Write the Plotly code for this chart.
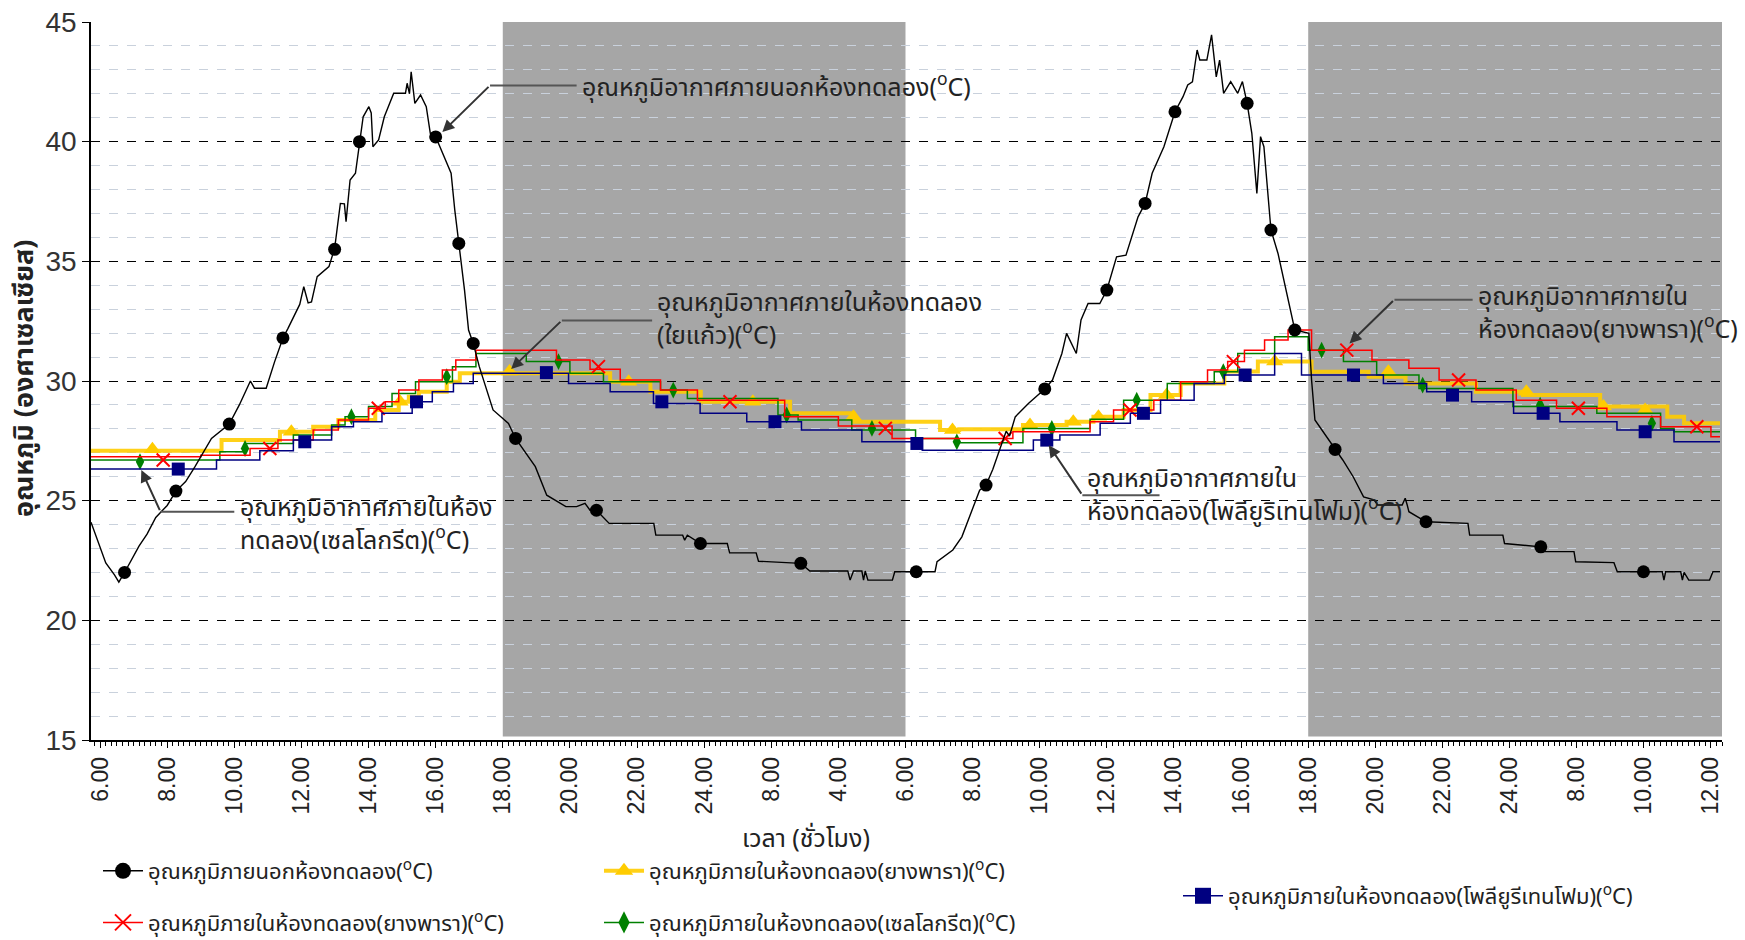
import plotly.graph_objects as go

# ---------------- data (hours since 6:00 of day 1) ----------------
tick_pos = [0, 2, 4, 6, 8, 10, 12, 14, 16, 18, 20, 22, 24, 26, 28, 30, 32, 34, 36, 38, 40, 42, 44, 46, 48]
tick_text = ["6.00", "8.00", "10.00", "12.00", "14.00", "16.00", "18.00", "20.00", "22.00", "24.00",
             "8.00", "4.00", "6.00", "8.00", "10.00", "12.00", "14.00", "16.00", "18.00", "20.00",
             "22.00", "24.00", "8.00", "10.00", "12.00"]

night_periods = [(12.0, 24.0), (36.0, 48.33)]

out_t = [-0.27, 0.0, 0.17, 0.43, 0.56, 0.73, 1.16, 1.4, 1.66, 2.0, 2.26, 2.55, 2.82, 3.32, 3.85, 4.15, 4.48,
         4.6, 4.95, 5.2, 5.45, 5.6, 5.79, 5.95, 6.07, 6.2, 6.3, 6.47, 6.82, 6.99, 7.16, 7.28, 7.33, 7.45,
         7.61, 7.73, 7.84, 8.01, 8.08, 8.13, 8.3, 8.47, 8.75, 9.1, 9.15, 9.22, 9.27, 9.38, 9.55, 9.72,
         9.84, 10.0, 10.24, 10.46, 10.57, 10.69, 10.86, 10.98, 11.12, 11.3, 11.71, 12.17, 12.38, 12.97,
         13.31, 13.88, 14.2, 14.45, 14.6, 14.79, 15.17, 16.5, 16.56, 17.36, 17.42, 17.5, 17.89, 18.69,
         18.76, 19.55, 19.62, 20.88, 21.15, 22.28, 22.35, 22.45, 22.7, 22.75, 22.8, 22.88, 23.61, 23.68,
         24.32, 24.88, 24.94, 25.41, 25.68, 25.94, 26.21, 26.4, 26.6, 26.87, 27.0, 27.1, 27.27, 27.67,
         28.15, 28.38, 28.66, 28.8, 28.94, 29.09, 29.23, 29.44, 29.79, 30.0, 30.29, 30.57, 30.93, 31.14,
         31.35, 31.7, 32.03, 32.27, 32.41, 32.55, 32.69, 32.77, 32.98, 33.12, 33.26, 33.36, 33.48, 33.69,
         33.9, 34.04, 34.18, 34.32, 34.47, 34.58, 34.68, 34.82, 34.89, 35.1, 35.31, 35.6, 36.02, 36.1,
         36.2, 36.41, 36.8, 37.03, 37.34, 37.65, 37.96, 38.07, 38.8, 38.89, 38.95, 39.0, 39.51, 40.76,
         40.81, 41.8, 41.85, 42.93, 43.0, 43.92, 43.97, 45.11, 45.21, 45.99, 46.55, 46.6, 46.65, 47.1,
         47.15, 47.2, 47.34, 47.96, 48.06, 48.27]
out_v = [24.1, 23.0, 22.4, 21.9, 21.6, 22.0, 23.1, 23.6, 24.3, 24.8, 25.4, 25.8, 26.4, 27.6, 28.2, 29.0, 30.0,
         29.7, 29.7, 30.8, 31.8, 32.2, 32.76, 33.2, 33.94, 33.26, 33.3, 34.36, 34.78, 35.54, 37.42, 37.4, 36.66, 38.4,
         38.68, 39.97, 41.04, 41.46, 41.2, 39.79, 40.07, 41.04, 42.02, 42.02, 42.44, 42.0, 42.92, 41.6, 41.95, 41.46,
         40.35, 40.21, 39.37, 38.68, 37.14, 35.75, 33.8, 32.13, 31.57, 30.6, 28.79, 28.23, 27.6, 26.42,
         25.23, 24.75, 24.75, 24.89, 24.6, 24.6, 24.05, 24.05, 23.56, 23.56, 23.35, 23.56, 23.21, 23.21,
         22.82, 22.82, 22.47, 22.38, 22.06, 22.06, 21.68, 22.06, 22.06, 21.68, 22.06, 21.68, 21.68, 22.03,
         22.03, 22.03, 22.45, 22.94, 23.49, 24.47, 25.44, 25.65, 26.3, 27.39, 27.9, 27.7, 28.5, 29.07,
         29.67, 30.04, 31.15, 31.99, 31.57, 31.15, 32.55, 33.24, 33.24, 33.8, 35.19, 35.26, 36.86, 37.42,
         38.68, 39.79, 41.25, 41.88, 42.37, 42.5, 43.83, 43.41, 43.41, 44.46, 42.71, 43.41, 42.02, 42.51,
         42.02, 42.51, 41.6, 40.35, 37.84, 40.21, 39.79, 37.28, 36.31, 35.33, 33.94, 32.13, 31.99, 30.04,
         28.37, 27.95, 27.14, 26.7, 26.0, 25.16, 25.03, 24.82, 24.82, 25.1, 24.82, 24.54, 24.12, 24.05,
         23.56, 23.56, 23.21, 23.07, 22.87, 22.87, 22.45, 22.41, 22.03, 22.03, 22.03, 21.68, 22.03, 22.03,
         21.68, 22.0, 21.68, 21.68, 22.03, 22.03]
out_mk_t = [0.73, 2.26, 3.85, 5.45, 6.99, 7.73, 10.0, 10.69, 11.12, 12.38, 14.79, 17.89, 20.88, 24.32, 26.4,
            28.15, 30.0, 31.14, 32.03, 34.18, 34.89, 35.6, 36.8, 39.51, 42.93, 45.99]
out_mk_v = [22.0, 25.4, 28.2, 31.8, 35.5, 40.0, 40.2, 35.75, 31.57, 27.6, 24.6, 23.21, 22.38, 22.03, 25.65,
            29.67, 33.8, 37.42, 41.25, 41.6, 36.31, 32.13, 27.14, 24.12, 23.07, 22.03]

yel_t = [-0.27, 3.62, 5.36, 6.35, 7.1, 8.2, 8.9, 9.2, 9.5, 10.33, 10.72, 15.2, 16.4, 17.9, 20.56, 22.45, 25.03,
         25.6, 27.5, 28.8, 29.6, 30.5, 31.3, 32.2, 33.5, 34.5, 36.1, 37.8, 38.9, 41.0, 42.4, 44.7, 46.7, 47.2, 48.27]
yel_v = [27.09, 27.53, 27.88, 28.09, 28.37, 28.79, 29.13, 29.34, 29.55, 29.97, 30.32, 29.97, 29.55, 29.13, 28.65,
         28.3, 27.95, 27.98, 28.16, 28.3, 28.51, 28.79, 29.41, 29.9, 30.4, 30.81, 30.39, 30.18, 29.9, 29.55, 29.41,
         28.93, 28.51, 28.23, 28.23]
yel_mk_t = [1.56, 5.7, 8.94, 12.2, 15.75, 19.45, 22.45, 25.4, 27.71, 29.0, 29.75, 31.78, 35.0, 38.39, 42.5, 44.8, 46.04]
yel_mk_v = [27.15, 27.88, 29.13, 30.4, 29.97, 29.13, 28.51, 27.95, 28.16, 28.3, 28.51, 29.41, 30.81, 30.39, 29.55,
            28.93, 28.79]

red_t = [-0.27, 3.0, 4.47, 5.3, 6.35, 7.1, 8.0, 8.5, 8.9, 9.5, 10.2, 10.6, 11.2, 13.6, 14.6, 15.5, 16.7, 17.8,
         20.4, 22.0, 23.6, 27.2, 29.5, 30.2, 31.4, 32.2, 33.0, 33.6, 34.1, 34.7, 35.4, 36.1, 37.9, 39.0, 39.9, 41.0,
         42.2, 43.4, 44.9, 46.5, 48.0, 48.27]
red_v = [26.84, 26.9, 27.18, 27.53, 27.95, 28.37, 28.86, 29.13, 29.62, 30.04, 30.46, 30.88, 31.29, 30.88, 30.49,
         30.04, 29.62, 29.2, 28.51, 28.12, 27.6, 27.88, 28.3, 28.79, 29.2, 29.97, 30.46, 30.81, 31.29, 31.71, 32.13,
         31.29, 30.88, 30.53, 30.04, 29.62, 29.2, 28.86, 28.51, 28.09, 27.67, 27.67]
red_mk_t = [1.88, 5.06, 8.29, 14.85, 18.77, 23.4, 26.97, 30.69, 33.77, 37.15, 40.48, 44.05, 47.58]
red_mk_v = [26.7, 27.18, 28.86, 30.6, 29.13, 28.02, 27.6, 28.79, 30.81, 31.29, 30.04, 28.86, 28.09]

grn_t = [-0.27, 3.57, 4.36, 5.76, 6.9, 7.3, 8.0, 8.7, 9.4, 10.5, 11.2, 12.7, 14.0, 15.0, 16.7, 17.5, 20.2, 20.8,
         22.4, 24.3, 25.5, 27.5, 29.5, 30.5, 31.8, 33.2, 33.9, 35.0, 36.0, 37.05, 38.04, 39.3, 42.1, 44.6, 46.5,
         46.9, 48.27]
grn_v = [26.7, 27.04, 27.39, 27.74, 28.16, 28.51, 28.93, 29.48, 29.97, 30.6, 31.15, 30.81, 30.32, 29.97, 29.62,
         29.27, 28.58, 28.37, 27.95, 27.6, 27.42, 28.02, 28.4, 29.2, 29.9, 30.39, 31.15, 31.85, 31.29, 30.81, 30.25,
         29.69, 28.93, 28.65, 28.02, 27.88, 27.88]
grn_mk_t = [1.19, 4.32, 7.49, 10.33, 13.66, 17.08, 20.46, 23.0, 25.53, 28.36, 30.89, 33.47, 36.4, 39.41, 42.91, 46.24]
grn_mk_v = [26.63, 27.18, 28.51, 30.18, 30.81, 29.62, 28.58, 28.02, 27.46, 28.02, 29.2, 30.39, 31.29, 29.83,
            28.99, 28.23]

nav_t = [-0.27, 3.47, 4.76, 5.76, 6.9, 7.55, 8.4, 9.3, 9.9, 10.53, 11.12, 13.96, 15.2, 16.49, 17.88, 19.27, 20.9,
         22.7, 24.5, 27.81, 28.6, 29.8, 30.7, 31.6, 32.6, 33.5, 35.0, 35.8, 38.24, 39.53, 40.87, 42.12, 43.5,
         45.2, 46.9, 48.27]
nav_v = [26.32, 26.7, 27.09, 27.53, 28.09, 28.3, 28.65, 29.13, 29.55, 29.9, 30.32, 29.9, 29.55, 29.06, 28.65,
         28.3, 27.95, 27.46, 27.11, 27.53, 27.74, 28.23, 28.65, 29.2, 29.9, 30.25, 31.15, 30.25, 29.9, 29.55, 29.13,
         28.65, 28.3, 27.95, 27.46, 27.46]
nav_mk_t = [2.33, 6.1, 9.43, 13.3, 16.74, 20.11, 24.34, 28.21, 31.09, 34.12, 37.35, 40.3, 43.0, 46.04]
nav_mk_v = [26.32, 27.46, 29.13, 30.35, 29.13, 28.3, 27.39, 27.53, 28.65, 30.25, 30.25, 29.41, 28.65, 27.88]

names = {
    "out": "อุณหภูมิภายนอกห้องทดลอง(<sup>o</sup>C)",
    "yel": "อุณหภูมิภายในห้องทดลอง(ยางพารา)(<sup>o</sup>C)",
    "red": "อุณหภูมิภายในห้องทดลอง(ยางพารา)(<sup>o</sup>C)",
    "grn": "อุณหภูมิภายในห้องทดลอง(เซลโลกรีต)(<sup>o</sup>C)",
    "nav": "อุณหภูมิภายในห้องทดลอง(โพลียูรีเทนโฟม)(<sup>o</sup>C)",
}

THAI = "Noto Sans Thai, Loma, Garuda, Tahoma, Liberation Sans, sans-serif"

fig = go.Figure()

def add_series(t, v, mt, mv, color, lw, shape, msym, msize, mcolor, name, legend, rank, lsize, mline=None):
    fig.add_trace(go.Scatter(x=t, y=v, mode="lines", line=dict(color=color, width=lw, shape=shape),
                             showlegend=False, hoverinfo="skip"))
    mk = dict(symbol=msym, size=msize, color=mcolor)
    if mline:
        mk["line"] = mline
    fig.add_trace(go.Scatter(x=mt, y=mv, mode="markers", marker=mk, showlegend=False, hoverinfo="skip"))
    mk2 = dict(mk)
    mk2["size"] = lsize
    fig.add_trace(go.Scatter(x=[None], y=[None], mode="lines+markers", name=name, legend=legend,
                             legendgroup="g%d" % rank, legendrank=rank,
                             line=dict(color=color, width=max(lw, 1.5)), marker=mk2))

add_series(yel_t, yel_v, yel_mk_t, yel_mk_v, "rgba(255,204,0,0.9)", 4, "hv", "triangle-up", 15, "#FFCC00",
           names["yel"], "legend2", 2, 20)
add_series(grn_t, grn_v, grn_mk_t, grn_mk_v, "#008000", 1.5, "hv", "diamond-tall", 12, "#008000",
           names["grn"], "legend2", 4, 18)
add_series(red_t, red_v, red_mk_t, red_mk_v, "#FF0000", 1.5, "hv", "x-thin", 13, "#FF0000",
           names["red"], "legend", 3, 17, mline=dict(color="#FF0000", width=2))
add_series(nav_t, nav_v, nav_mk_t, nav_mk_v, "#000080", 1.5, "hv", "square", 13, "#000080",
           names["nav"], "legend3", 5, 20)
add_series(out_t, out_v, out_mk_t, out_mk_v, "#000000", 1.4, "linear", "circle", 13, "#000000",
           names["out"], "legend", 1, 20)

shapes = []
for a, b in night_periods:
    shapes.append(dict(type="rect", xref="x", yref="y", x0=a, x1=b, y0=15.15, y1=45,
                       fillcolor="#A6A6A6", line=dict(width=0), layer="below"))

# callouts: (text, text_x, text_y, bend_x, bend_y, tip_x, tip_y)
callouts = [
    ("อุณหภูมิอากาศภายนอกห้องทดลอง(<sup>o</sup>C)", 14.3, 42.3, 11.62, 42.35, 10.2, 40.4),
    ("อุณหภูมิอากาศภายในห้องทดลอง<br>(ใยแก้ว)(<sup>o</sup>C)", 16.55, 32.55, 13.76, 32.53, 12.25, 30.5),
    ("อุณหภูมิอากาศภายในห้อง<br>ทดลอง(เซลโลกรีต)(<sup>o</sup>C)", 4.1, 24.0, 1.80, 24.54, 1.23, 26.28),
    ("อุณหภูมิอากาศภายใน<br>ห้องทดลอง(ยางพารา)(<sup>o</sup>C)", 41.0, 32.8, 38.57, 33.4, 37.23, 31.57),
    ("อุณหภูมิอากาศภายใน<br>ห้องทดลอง(โพลียูริเทนโฟม)(<sup>o</sup>C)", 29.35, 25.2, 29.27, 25.23, 28.27, 27.32),
]
annotations = []
for txt, tx, ty, bx, by, px, py in callouts:
    annotations.append(dict(x=tx, y=ty, xref="x", yref="y", text=txt, showarrow=False, xanchor="left",
                            yanchor="middle", align="left", font=dict(family=THAI, size=25, color="#222")))
    x1 = tx - 0.1 if tx > bx + 0.5 else bx + 2.3
    shapes.append(dict(type="line", xref="x", yref="y", x0=bx, y0=by, x1=x1, y1=by,
                       line=dict(color="#555", width=2)))
    annotations.append(dict(x=px, y=py, ax=bx, ay=by, xref="x", yref="y", axref="x", ayref="y", text="",
                            showarrow=True, arrowhead=2, arrowsize=1.2, arrowwidth=2, arrowcolor="#333"))

# axis titles
annotations.append(dict(x=(806 - 91) / 1631, y=(740 - 839) / 718, xref="paper", yref="paper",
                        xanchor="center", yanchor="middle",
                        text="เวลา (ชั่วโมง)", showarrow=False,
                        font=dict(family=THAI, size=25, color="#222")))
annotations.append(dict(x=(25 - 91) / 1631, y=(740 - 378) / 718, xref="paper", yref="paper",
                        xanchor="center", yanchor="middle",
                        text="<b>อุณหภูมิ (องศาเซลเซียส)</b>", showarrow=False, textangle=-90,
                        font=dict(family=THAI, size=27, color="#222")))

fig.update_layout(
    width=1745, height=940,
    margin=dict(l=91, r=23, t=22, b=200, autoexpand=False),
    paper_bgcolor="white", plot_bgcolor="white",
    shapes=shapes, annotations=annotations,
    font=dict(family=THAI, color="#222"),
    legend=dict(xref="container", yref="container", x=98 / 1745, y=1 - 850 / 940, xanchor="left",
                yanchor="top", orientation="v", tracegroupgap=20, itemwidth=40,
                font=dict(family=THAI, size=22, color="#222"), bgcolor="rgba(0,0,0,0)"),
    legend2=dict(xref="container", yref="container", x=599 / 1745, y=1 - 850 / 940, xanchor="left",
                 yanchor="top", orientation="v", tracegroupgap=20, itemwidth=40,
                 font=dict(family=THAI, size=22, color="#222"), bgcolor="rgba(0,0,0,0)"),
    legend3=dict(xref="container", yref="container", x=1178 / 1745, y=1 - 875 / 940, xanchor="left",
                 yanchor="top", orientation="v", itemwidth=40,
                 font=dict(family=THAI, size=22, color="#222"), bgcolor="rgba(0,0,0,0)"),
    xaxis=dict(range=[-0.27, 48.33], tickmode="array", tickvals=tick_pos, ticktext=tick_text, tickangle=-90,
               showgrid=False, zeroline=False, showline=True, linecolor="black", linewidth=1.5,
               ticks="outside", ticklen=6, tickcolor="black",
               tickfont=dict(family="Liberation Sans, Arial", size=23, color="#222"),
               minor=dict(tickmode="linear", tick0=0, dtick=1 / 6, ticks="outside", ticklen=4,
                          tickcolor="black", showgrid=False)),
    yaxis=dict(range=[15, 45], tickmode="linear", tick0=15, dtick=5, showline=True, linecolor="black",
               linewidth=1.5, ticks="outside", ticklen=7, tickcolor="black", zeroline=False,
               showgrid=True, gridcolor="black", griddash="dash", gridwidth=1.3,
               tickfont=dict(family="Liberation Sans, Arial", size=28, color="#333"),
               minor=dict(tickmode="linear", tick0=15, dtick=1, showgrid=True, gridcolor="#C9D1DC",
                          griddash="dash", gridwidth=1, ticks="")),
)

fig.write_html("out.html", config={"displayModeBar": False},
               post_script="document.body.style.margin='0px';document.body.style.overflow='hidden';")
